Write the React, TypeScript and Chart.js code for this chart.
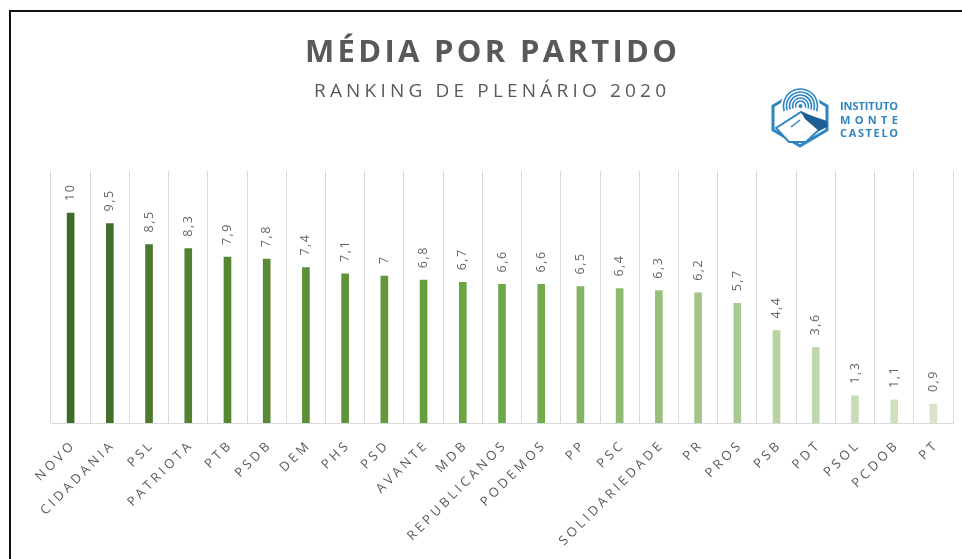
import { useEffect, useRef } from 'react';
import { Chart, registerables } from 'chart.js';

Chart.register(...registerables);

const categories = ['NOVO', 'CIDADANIA', 'PSL', 'PATRIOTA', 'PTB', 'PSDB', 'DEM', 'PHS', 'PSD', 'AVANTE', 'MDB', 'REPUBLICANOS', 'PODEMOS', 'PP', 'PSC', 'SOLIDARIEDADE', 'PR', 'PROS', 'PSB', 'PDT', 'PSOL', 'PCDOB', 'PT'];
const values = [10, 9.5, 8.5, 8.3, 7.9, 7.8, 7.4, 7.1, 7, 6.8, 6.7, 6.6, 6.6, 6.5, 6.4, 6.3, 6.2, 5.7, 4.4, 3.6, 1.3, 1.1, 0.9];
const barColors = ['#3e6b25', '#436f29', '#4b7a2f', '#518131', '#558634', '#588a35', '#5c8f37', '#5f9339', '#62973b', '#66a03e', '#6aa443', '#6fa849', '#74ab4f', '#85b464', '#90ba72', '#99bf7d', '#a1c487', '#abca93', '#b8d2a3', '#c0d7ad', '#c8dcb8', '#cfe0c1', '#d6e5ca'];
const titleText = 'MÉDIA POR PARTIDO';
const subtitleText = 'RANKING DE PLENÁRIO 2020';
const logoLines = ['INSTITUTO', 'MONTE', 'CASTELO'];

const TEXT_GRAY = '#595959';
const LOGO_BLUE = '#2f85c2';

function charWidths(ctx: CanvasRenderingContext2D, text: string) {
  return Array.from(text).map((c) => ctx.measureText(c).width);
}

function spacedText(ctx: CanvasRenderingContext2D, text: string, x: number, y: number, spacing: number, align: 'left' | 'center' | 'right') {
  const chars = Array.from(text);
  const w = charWidths(ctx, text);
  const total = w.reduce((a, b) => a + b, 0) + spacing * (chars.length - 1);
  let cx = align === 'left' ? x : align === 'center' ? x - total / 2 : x - total;
  ctx.textAlign = 'left';
  chars.forEach((c, i) => {
    ctx.fillText(c, cx, y);
    cx += w[i] + spacing;
  });
}

function fitSpacing(ctx: CanvasRenderingContext2D, text: string, target: number) {
  const w = charWidths(ctx, text);
  const sum = w.reduce((a, b) => a + b, 0);
  return (target - sum) / Math.max(1, w.length - 1);
}

function fmt(v: number) {
  return String(v).replace('.', ',');
}

function drawLogo(ctx: CanvasRenderingContext2D) {
  ctx.save();
  ctx.strokeStyle = LOGO_BLUE;
  ctx.lineWidth = 3;
  ctx.lineJoin = 'miter';
  ctx.beginPath();
  ctx.moveTo(800, 90);
  ctx.lineTo(827, 106);
  ctx.lineTo(827, 130);
  ctx.lineTo(800, 146);
  ctx.lineTo(773, 130);
  ctx.lineTo(773, 106);
  ctx.closePath();
  ctx.stroke();
  ctx.fillStyle = '#ffffff';
  ctx.beginPath();
  ctx.arc(800.5, 106, 19.5, 0, Math.PI * 2);
  ctx.fill();
  ctx.strokeStyle = LOGO_BLUE;
  ctx.lineWidth = 1.6;
  [17, 14, 11, 8, 5].forEach((r) => {
    ctx.beginPath();
    ctx.arc(800.5, 106, r, Math.PI * 0.9, Math.PI * 2.1);
    ctx.stroke();
  });
  ctx.fillStyle = LOGO_BLUE;
  ctx.beginPath();
  ctx.arc(800.5, 106, 2, 0, Math.PI * 2);
  ctx.fill();
  ctx.fillStyle = '#ffffff';
  ctx.strokeStyle = LOGO_BLUE;
  ctx.lineWidth = 2;
  ctx.beginPath();
  ctx.moveTo(776, 128);
  ctx.lineTo(801, 112);
  ctx.lineTo(825, 124);
  ctx.lineTo(806, 142);
  ctx.lineTo(789, 142);
  ctx.closePath();
  ctx.fill();
  ctx.stroke();
  ctx.fillStyle = '#1d5f94';
  ctx.beginPath();
  ctx.moveTo(801, 112);
  ctx.lineTo(827, 121);
  ctx.lineTo(827, 127);
  ctx.lineTo(819, 131);
  ctx.lineTo(805, 119);
  ctx.closePath();
  ctx.fill();
  ctx.strokeStyle = LOGO_BLUE;
  ctx.lineWidth = 1.5;
  ctx.beginPath();
  ctx.moveTo(791, 127);
  ctx.lineTo(800, 120);
  ctx.stroke();
  ctx.fillStyle = LOGO_BLUE;
  ctx.font = 'bold 11px "Open Sans"';
  ctx.textBaseline = 'alphabetic';
  const ys = [110, 124, 137];
  logoLines.forEach((t, i) => {
    const sp = fitSpacing(ctx, t, 58);
    spacedText(ctx, t, 840, ys[i], sp, 'left');
  });
  ctx.restore();
}

const textPlugin = {
  id: 'textPlugin',
  afterDraw(chart: any) {
    const ctx: CanvasRenderingContext2D = chart.ctx;
    ctx.save();
    ctx.fillStyle = TEXT_GRAY;
    ctx.textBaseline = 'alphabetic';
    ctx.font = 'bold 31px "Open Sans"';
    spacedText(ctx, titleText, 491, 62, fitSpacing(ctx, titleText, 372), 'center');
    ctx.font = '19px "Open Sans"';
    spacedText(ctx, subtitleText, 490, 97, fitSpacing(ctx, subtitleText, 352), 'center');

    const meta = chart.getDatasetMeta(0);
    ctx.font = '12.5px "Open Sans"';
    ctx.fillStyle = '#666666';
    ctx.textBaseline = 'middle';
    meta.data.forEach((el: any, i: number) => {
      ctx.save();
      ctx.translate(el.x, el.y - 12);
      ctx.rotate(-Math.PI / 2);
      spacedText(ctx, fmt(values[i]), 0, 0, 1.5, 'left');
      ctx.restore();
    });

    const xScale = chart.scales.x;
    ctx.font = '13px "Open Sans"';
    ctx.fillStyle = TEXT_GRAY;
    ctx.textBaseline = 'middle';
    categories.forEach((c, i) => {
      const x = xScale.getPixelForValue(i);
      ctx.save();
      ctx.translate(x + 1, chart.chartArea.bottom + 22);
      ctx.rotate(-Math.PI / 4);
      spacedText(ctx, c, 0, 0, 3.4, 'right');
      ctx.restore();
    });

    drawLogo(ctx);
    ctx.restore();
  },
};

export default function App() {
  const ref = useRef<HTMLCanvasElement | null>(null);
  useEffect(() => {
    if (!ref.current) return;
    const chart = new Chart(ref.current, {
      type: 'bar',
      data: {
        labels: categories,
        datasets: [
          {
            data: values,
            backgroundColor: barColors,
            barThickness: 7,
          },
        ],
      },
      options: {
        animation: false,
        responsive: false,
        layout: { padding: { left: 51, right: 9, top: 171, bottom: 136 } },
        plugins: {
          legend: { display: false },
          title: { display: false },
          tooltip: { enabled: false },
        },
        scales: {
          x: {
            grid: { color: '#d9d9d9', offset: true, drawTicks: false, lineWidth: 1 },
            border: { color: '#d9d9d9', width: 1 },
            ticks: { display: false },
          },
          y: {
            display: false,
            min: 0,
            max: 12,
          },
        },
      },
      plugins: [textPlugin],
    });
    return () => chart.destroy();
  }, []);

  return (
    <div style={{ position: 'fixed', left: 0, top: 0, width: 962, height: 559, background: '#ffffff', overflow: 'hidden' }}>
      <div style={{ position: 'absolute', left: 9, top: 10, width: 1100, height: 1000, borderLeft: '2px solid #111', borderTop: '2px solid #111' }} />
      <canvas ref={ref} width={962} height={559} style={{ position: 'absolute', left: 0, top: 0, width: 962, height: 559 }} />
    </div>
  );
}
